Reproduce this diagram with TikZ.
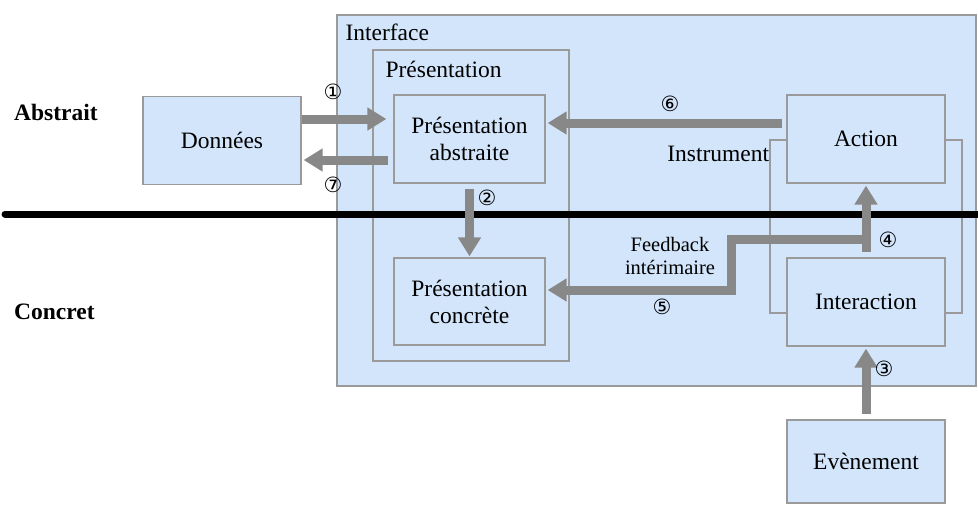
\documentclass[tikz,border=0pt]{standalone}
\usepackage{fontspec}
\setmainfont{Liberation Serif}
\newfontfamily\circfont{DejaVu Sans}
\usetikzlibrary{arrows.meta}
\definecolor{boxfill}{HTML}{D3E5FB}
\definecolor{boxline}{HTML}{9A9A9A}
\definecolor{arrgray}{HTML}{888888}
\tikzset{
  box/.style={draw=boxline, fill=boxfill, line width=1.3pt, align=center, inner sep=0pt},
  arr/.style={draw=arrgray, line width=9pt, -{Triangle[width=22pt,length=19pt]}},
  num/.style={font=\circfont\fontsize{21}{21}\selectfont, inner sep=0pt},
  lbl/.style={font=\fontsize{23.5}{27}\selectfont, inner sep=0pt},
}
\begin{document}
\begin{tikzpicture}[x=1pt,y=-1pt]
\useasboundingbox (0,0) rectangle (978,504);
% containers
\node[box, minimum width=639pt, minimum height=371pt] (iface) at (656.5,200.5) {};
\node[lbl, anchor=north west] (ifacelbl) at ([xshift=9pt,yshift=-9pt]iface.north west) {Interface};
\node[box, minimum width=196pt, minimum height=311pt] (pres) at (471,205.5) {};
\node[lbl, anchor=north west] (preslbl) at ([xshift=13pt,yshift=-12pt]pres.north west) {Présentation};
\node[box, minimum width=192pt, minimum height=173pt] (instr) at (866,226.5) {};
\node[lbl, anchor=east] (instrlbl) at (instr.west |- 0,154) {Instrument};
% boxes
\node[box, lbl, minimum width=158pt, minimum height=88pt, draw=boxline, fill=boxfill] (don) at (222,140.5) {Données};
\node[box, lbl, minimum width=151pt, minimum height=88pt, draw=boxline, fill=boxfill] (pa) at (469.5,139) {Présentation\\abstraite};
\node[box, lbl, minimum width=151pt, minimum height=87pt, draw=boxline, fill=boxfill] (pc) at (469.5,301.5) {Présentation\\concrète};
\node[box, lbl, minimum width=158pt, minimum height=88pt, draw=boxline, fill=boxfill] (act) at (866,139) {Action};
\node[box, lbl, minimum width=158pt, minimum height=88pt, draw=boxline, fill=boxfill] (inter) at (866,302) {Interaction};
\node[box, lbl, minimum width=158pt, minimum height=83pt, draw=boxline, fill=boxfill] (evt) at (866,461.5) {Evènement};
% side labels
\node[lbl, anchor=west, font=\fontsize{23.5}{27}\selectfont\bfseries] (abs) at (14,112) {Abstrait};
\node[lbl, anchor=west, font=\fontsize{23.5}{27}\selectfont\bfseries] (conc) at (14,312) {Concret};
% separator
\coordinate (sepL) at (5,214);
\coordinate (sepR) at (978,214);
\draw[line width=7pt, line cap=round] (sepL) -- (sepR);
% arrows
\draw[arr, shorten >=7pt] ([yshift=21.5pt]don.east) -- ([yshift=20pt]pa.west);
\draw[arr, shorten <=5pt, shorten >=2pt] ([yshift=-21pt]pa.west) -- ([yshift=-19.5pt]don.east);
\draw[arr, shorten <=5pt, shorten >=1pt] (pa.south) -- (pc.north);
\draw[arr, shorten <=4pt, shorten >=2pt] ([yshift=16pt]act.west) -- ([yshift=16pt]pa.east);
\draw[arr, shorten <=5pt, shorten >=2pt] (inter.north) -- (act.south);
\coordinate (fbA) at (870.5,239);
\coordinate (fbB) at (731,239);
\coordinate (fbC) at (731,290);
\draw[arr, shorten >=2pt] (fbA) -- (fbB) -- (fbC) -- (fbC -| pc.east);
\draw[arr, shorten <=5pt, shorten >=2pt] (evt.north) -- (inter.south);
% numbers
\node[num] (n1) at (333,92) {①};
\node[num] (n7) at (333,185) {⑦};
\node[num] (n2) at (487,198) {②};
\node[num] (n6) at (670,104) {⑥};
\node[num] (n4) at (888,240) {④};
\node[num] (n5) at (662,307) {⑤};
\node[num] (n3) at (884,369) {③};
\node[align=center, font=\fontsize{20.5}{23}\selectfont, inner sep=0pt] (fb) at (670,256) {Feedback\\intérimaire};
\end{tikzpicture}
\end{document}
